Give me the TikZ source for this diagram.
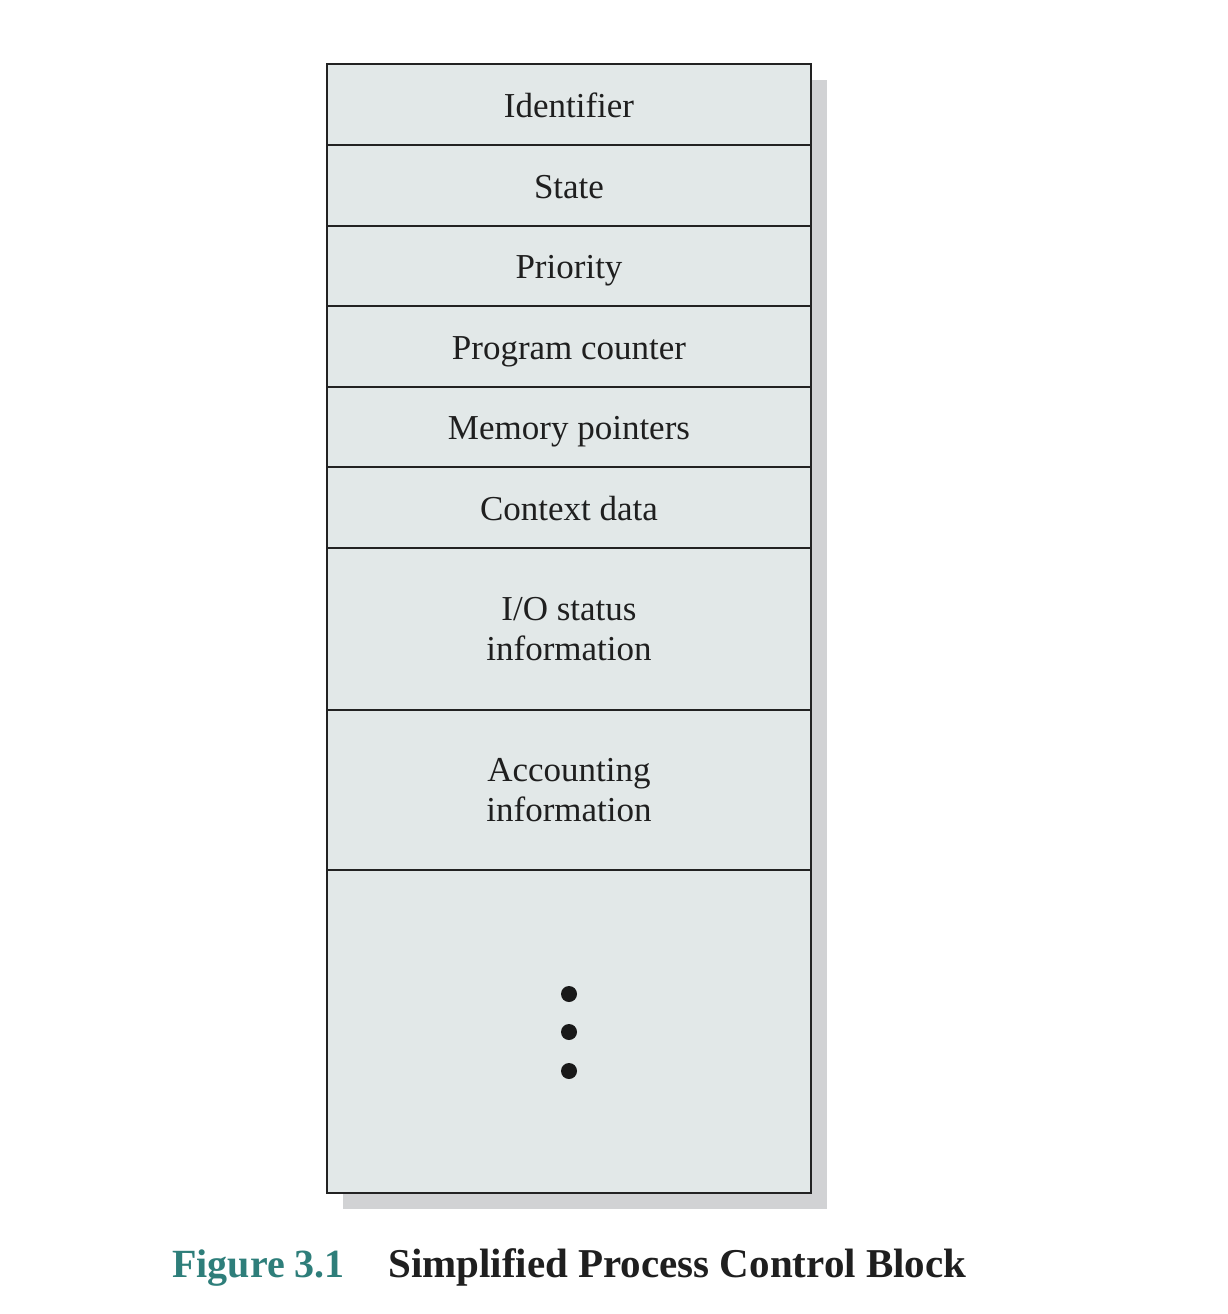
\documentclass[tikz,border=0pt]{standalone}
\usepackage{fontspec}
\setmainfont{Liberation Serif}
\definecolor{cellfill}{HTML}{E2E8E8}
\definecolor{shadowgray}{HTML}{D1D2D4}
\definecolor{linecol}{HTML}{222222}
\definecolor{teal}{HTML}{2E7E7A}
\begin{document}
\begin{tikzpicture}[x=1pt,y=-1pt,
  cell/.style={draw=linecol, line width=2pt, fill=cellfill, minimum width=484pt, inner sep=0pt, align=center,
    font=\fontsize{35}{40}\selectfont, text=black!88},
  onecell/.style={cell, text height=25pt, text depth=0pt},
  dotnode/.style={circle, fill=black!90, minimum size=16pt, inner sep=0pt},
  captext/.style={font=\fontsize{40}{44}\selectfont\bfseries, inner sep=0pt, anchor=base west}]
\useasboundingbox (0,0) rectangle (1228,1314);
\fill[shadowgray] (343,80) rectangle (827,1209);
\node[onecell, minimum height=81pt] (r1) at (569,104.5) {Identifier};
\node[onecell, minimum height=81pt] (r2) at (569,185.5) {State};
\node[onecell, minimum height=80pt] (r3) at (569,266) {Priority};
\node[onecell, minimum height=81pt] (r4) at (569,346.5) {Program counter};
\node[onecell, minimum height=80pt] (r5) at (569,427) {Memory pointers};
\node[onecell, minimum height=81pt] (r6) at (569,507.5) {Context data};
\node[cell, minimum height=162pt] (r7) at (569,629) {I/O status\\information};
\node[cell, minimum height=160pt] (r8) at (569,790) {Accounting\\information};
\node[cell, minimum height=323pt] (r9) at (569,1031.5) {};
\node[dotnode] (d1) at (569,994) {};
\node[dotnode] (d2) at (569,1032) {};
\node[dotnode] (d3) at (569,1071) {};
\node[captext, text=teal] (c1) at (172,1277) {Figure 3.1};
\node[captext, text=black!88, font=\fontsize{41}{44}\selectfont\bfseries] (c2) at (388,1277) {Simplified Process Control Block};
\end{tikzpicture}
\end{document}
